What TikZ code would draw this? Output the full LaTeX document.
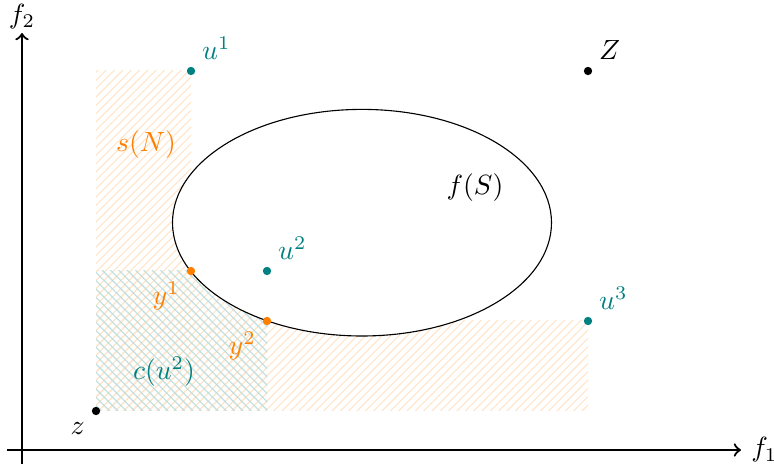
\documentclass[tikz,border=0pt]{standalone}
\usepackage{amsmath}
\usetikzlibrary{positioning,patterns}

\tikzset{pnt/.style={circle, fill, inner sep=0pt, minimum size=3pt}}

\begin{document}
\begin{tikzpicture}[x=0.36pt,y=0.36pt,>=to]
        \useasboundingbox (0,0) rectangle (774,468);
        % hatched regions
        \fill[pattern=north east lines, pattern color=orange!20] (96,57) rectangle (191,397);
        \fill[pattern=north east lines, pattern color=orange!20] (96,57) rectangle (588,147);
        \fill[pattern=north east lines, pattern color=orange!20] (96,57) rectangle (267,197);
        \fill[pattern=north west lines, pattern color=teal!25] (96,57) rectangle (267,197);
        \draw[fill=white] (362,245.3) ellipse [x radius=189.5, y radius=113.3];
        % axes
        \coordinate (xs) at (7,18);
        \coordinate (xe) at (741,18);
        \coordinate (ys) at (22,4);
        \coordinate (ye) at (22,435);
        \draw[->,thick] (xs) -- (xe) node[right] {$f_1$};
        \draw[->,thick] (ys) -- (ye) node[above, inner sep=1pt] {$f_2$};
        % points
        \node (z) [pnt] at (96,57) {};
        \node (Z) [pnt] at (588,397) {};
        \node (u1) [pnt, teal] at (191,397) {};
        \node (u2) [pnt, teal] at (267,197) {};
        \node (u3) [pnt, teal] at (588,147) {};
        \node (y1) [pnt, orange] at (191,197) {};
        \node (y2) [pnt, orange] at (267,147) {};
        \node (lz) [below left=-1pt of z] {$z$};
        \node (lZ) [above right=-1pt of Z] {$Z$};
        \node (lu1) [teal, above right=-1pt of u1] {$u^1$};
        \node (lu2) [teal, above right=-1pt of u2] {$u^2$};
        \node (lu3) [teal, above right=-1pt of u3] {$u^3$};
        \node (ly1) [orange, below left=-1pt of y1] {$y^1$};
        \node (ly2) [orange, below left=-1pt of y2] {$y^2$};
        \node (sN) [orange] at (146,323) {$s(N)$};
        \node (cu2) [teal] at (164,96) {$c(u^2)$};
        \node (fS) at (475,280) {$f(S)$};
    \end{tikzpicture}
\end{document}
